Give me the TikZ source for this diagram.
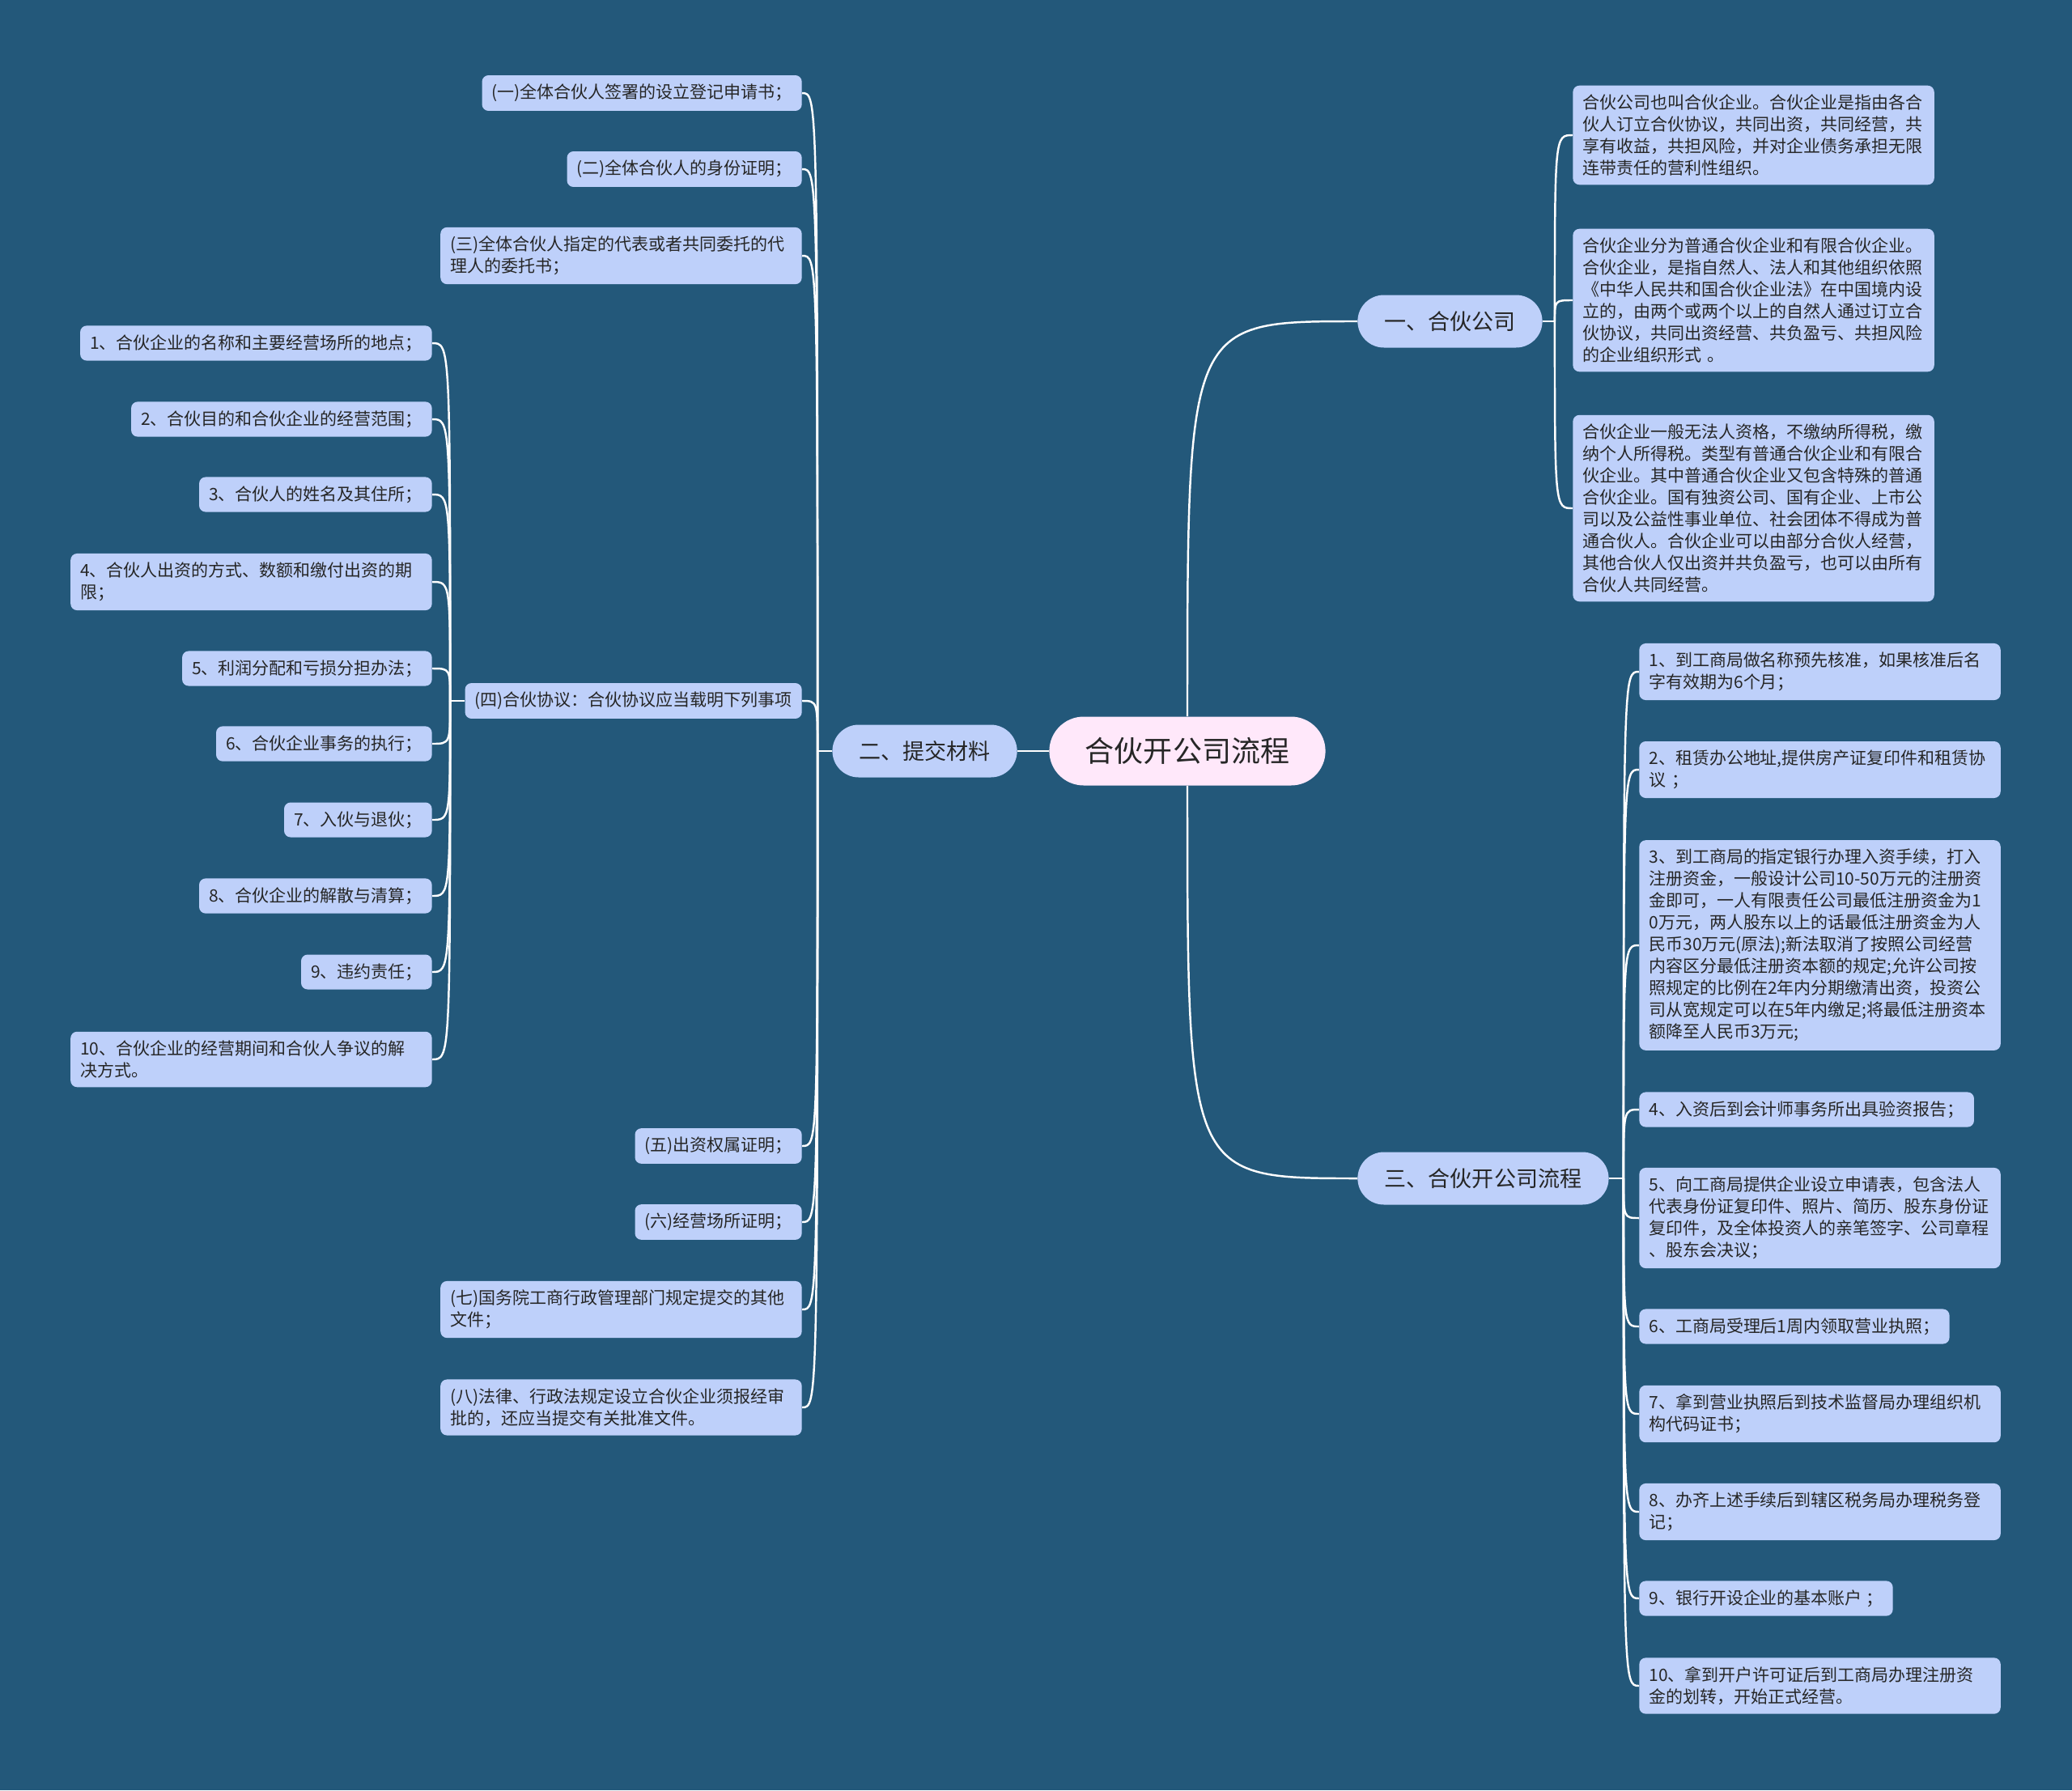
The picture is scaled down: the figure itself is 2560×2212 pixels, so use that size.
\documentclass[tikz,border=0pt]{standalone}
\usepackage{fontspec}
\setmainfont{Noto Sans CJK SC}
\usetikzlibrary{shapes.misc}
\definecolor{bgblue}{RGB}{35,88,122}
\definecolor{leafblue}{RGB}{190,208,250}
\definecolor{rootpink}{RGB}{255,232,250}
\definecolor{inkgray}{RGB}{38,38,38}

\begin{document}
\begin{tikzpicture}[x=0.02cm, y=-0.02cm,
    link/.style={draw=white, line width=1.4pt},
    leaf/.style={fill=leafblue, text=inkgray, rounded corners=0.16cm, inner xsep=0.24cm, inner ysep=0.22cm, align=left, font=\fontsize{11.95}{15.36}\selectfont},
    wideleaf/.style={leaf, text width=8.45cm},
    topic/.style={rounded rectangle, fill=leafblue, text=inkgray, minimum height=1.3cm, font=\fontsize{15.4}{18}\selectfont},
    central/.style={rounded rectangle, fill=rootpink, text=inkgray, minimum width=7.06cm, minimum height=1.7cm, font=\fontsize{20.5}{24}\selectfont}]
            \fill[bgblue] (0,0) rectangle (2560,2212);

            % Root and main topics
            \node[central] (root) at (1467,928) {合伙开公司流程};
            \node[topic, minimum width=4.8cm, anchor=west] (n1) at (1677,397) {一、合伙公司};
            \node[topic, minimum width=4.8cm, anchor=east] (n2) at (1257,928) {二、提交材料};
            \node[topic, minimum width=6.44cm, anchor=west] (n3) at (1677,1456) {三、合伙开公司流程};

            % 一、合伙公司
            \node[wideleaf, anchor=west] (p1) at (1943,167) {合伙公司也叫合伙企业。合伙企业是指由各合\\伙人订立合伙协议，共同出资，共同经营，共\\享有收益，共担风险，并对企业债务承担无限\\连带责任的营利性组织。};
            \node[wideleaf, anchor=west] (p2) at (1943,371) {合伙企业分为普通合伙企业和有限合伙企业。\\合伙企业，是指自然人、法人和其他组织依照\\《中华人民共和国合伙企业法》在中国境内设\\立的，由两个或两个以上的自然人通过订立合\\伙协议，共同出资经营、共负盈亏、共担风险\\的企业组织形式 。};
            \node[wideleaf, anchor=west] (p3) at (1943,628) {合伙企业一般无法人资格，不缴纳所得税，缴\\纳个人所得税。类型有普通合伙企业和有限合\\伙企业。其中普通合伙企业又包含特殊的普通\\合伙企业。国有独资公司、国有企业、上市公\\司以及公益性事业单位、社会团体不得成为普\\通合伙人。合伙企业可以由部分合伙人经营，\\其他合伙人仅出资并共负盈亏，也可以由所有\\合伙人共同经营。};

            % 二、提交材料
            \node[leaf, anchor=east] (l1) at (991,115) {(一)全体合伙人签署的设立登记申请书；};
            \node[leaf, anchor=east] (l2) at (991,209) {(二)全体合伙人的身份证明；};
            \node[wideleaf, anchor=east] (l3) at (991,316) {(三)全体合伙人指定的代表或者共同委托的代\\理人的委托书；};
            \node[leaf, anchor=east] (l4) at (991,866) {(四)合伙协议：合伙协议应当载明下列事项};
            \node[leaf, anchor=east] (l5) at (991,1416) {(五)出资权属证明；};
            \node[leaf, anchor=east] (l6) at (991,1510) {(六)经营场所证明；};
            \node[wideleaf, anchor=east] (l7) at (991,1618) {(七)国务院工商行政管理部门规定提交的其他\\文件；};
            \node[wideleaf, anchor=east] (l8) at (991,1739) {(八)法律、行政法规定设立合伙企业须报经审\\批的，还应当提交有关批准文件。};

            % (四)合伙协议
            \node[leaf, anchor=east] (a1) at (534,424) {1、合伙企业的名称和主要经营场所的地点；};
            \node[leaf, anchor=east] (a2) at (534,518) {2、合伙目的和合伙企业的经营范围；};
            \node[leaf, anchor=east] (a3) at (534,611) {3、合伙人的姓名及其住所；};
            \node[wideleaf, anchor=east] (a4) at (534,719) {4、合伙人出资的方式、数额和缴付出资的期\\限；};
            \node[leaf, anchor=east] (a5) at (534,826) {5、利润分配和亏损分担办法；};
            \node[leaf, anchor=east] (a6) at (534,919) {6、合伙企业事务的执行；};
            \node[leaf, anchor=east] (a7) at (534,1013) {7、入伙与退伙；};
            \node[leaf, anchor=east] (a8) at (534,1107) {8、合伙企业的解散与清算；};
            \node[leaf, anchor=east] (a9) at (534,1201) {9、违约责任；};
            \node[wideleaf, anchor=east] (a10) at (534,1309) {10、合伙企业的经营期间和合伙人争议的解\\决方式。};

            % 三、合伙开公司流程
            \node[wideleaf, anchor=west] (r1) at (2025,830) {1、到工商局做名称预先核准，如果核准后名\\字有效期为6个月；};
            \node[wideleaf, anchor=west] (r2) at (2025,951) {2、租赁办公地址,提供房产证复印件和租赁协\\议 ；};
            \node[wideleaf, anchor=west] (r3) at (2025,1168) {3、到工商局的指定银行办理入资手续，打入\\注册资金，一般设计公司10-50万元的注册资\\金即可，一人有限责任公司最低注册资金为1\\0万元，两人股东以上的话最低注册资金为人\\民币30万元(原法);新法取消了按照公司经营\\内容区分最低注册资本额的规定;允许公司按\\照规定的比例在2年内分期缴清出资，投资公\\司从宽规定可以在5年内缴足;将最低注册资本\\额降至人民币3万元;};
            \node[leaf, anchor=west] (r4) at (2025,1371) {4、入资后到会计师事务所出具验资报告；};
            \node[wideleaf, anchor=west] (r5) at (2025,1505) {5、向工商局提供企业设立申请表，包含法人\\代表身份证复印件、照片、简历、股东身份证\\复印件，及全体投资人的亲笔签字、公司章程\\、股东会决议；};
            \node[leaf, anchor=west] (r6) at (2025,1639) {6、工商局受理后1周内领取营业执照；};
            \node[wideleaf, anchor=west] (r7) at (2025,1747) {7、拿到营业执照后到技术监督局办理组织机\\构代码证书；};
            \node[wideleaf, anchor=west] (r8) at (2025,1868) {8、办齐上述手续后到辖区税务局办理税务登\\记；};
            \node[leaf, anchor=west] (r9) at (2025,1975) {9、银行开设企业的基本账户 ；};
            \node[wideleaf, anchor=west] (r10) at (2025,2083) {10、拿到开户许可证后到工商局办理注册资\\金的划转，开始正式经营。};

            % Branch points
            \path (n1.east) ++(15,0) coordinate (b1);
            \path (n2.west) ++(-18,0) coordinate (b2);
            \path (n3.east) ++(18,0) coordinate (b3);
            \path (l4.west) ++(-18,0) coordinate (b4);

            % Root links
            \draw[link] (root.west) -- (n2.east);
            \draw[link] (root.north) .. controls (root.north |- n1.west) .. (n1.west);
            \draw[link] (root.south) .. controls (root.south |- n3.west) .. (n3.west);

            % Links of 一
            \draw[link] (n1.east) -- (b1);
            \draw[link] (b1) .. controls (b1 |- p1) .. (p1.west);
            \draw[link] (b1) .. controls (b1 |- p2) .. (p2.west);
            \draw[link] (b1) .. controls (b1 |- p3) .. (p3.west);

            % Links of 二
            \draw[link] (n2.west) -- (b2);
            \draw[link] (b2) .. controls (b2 |- l1) .. (l1.east);
            \draw[link] (b2) .. controls (b2 |- l2) .. (l2.east);
            \draw[link] (b2) .. controls (b2 |- l3) .. (l3.east);
            \draw[link] (b2) .. controls (b2 |- l4) .. (l4.east);
            \draw[link] (b2) .. controls (b2 |- l5) .. (l5.east);
            \draw[link] (b2) .. controls (b2 |- l6) .. (l6.east);
            \draw[link] (b2) .. controls (b2 |- l7) .. (l7.east);
            \draw[link] (b2) .. controls (b2 |- l8) .. (l8.east);

            % Links of (四)
            \draw[link] (l4.west) -- (b4);
            \draw[link] (b4) .. controls (b4 |- a1) .. (a1.east);
            \draw[link] (b4) .. controls (b4 |- a2) .. (a2.east);
            \draw[link] (b4) .. controls (b4 |- a3) .. (a3.east);
            \draw[link] (b4) .. controls (b4 |- a4) .. (a4.east);
            \draw[link] (b4) .. controls (b4 |- a5) .. (a5.east);
            \draw[link] (b4) .. controls (b4 |- a6) .. (a6.east);
            \draw[link] (b4) .. controls (b4 |- a7) .. (a7.east);
            \draw[link] (b4) .. controls (b4 |- a8) .. (a8.east);
            \draw[link] (b4) .. controls (b4 |- a9) .. (a9.east);
            \draw[link] (b4) .. controls (b4 |- a10) .. (a10.east);

            % Links of 三
            \draw[link] (n3.east) -- (b3);
            \draw[link] (b3) .. controls (b3 |- r1) .. (r1.west);
            \draw[link] (b3) .. controls (b3 |- r2) .. (r2.west);
            \draw[link] (b3) .. controls (b3 |- r3) .. (r3.west);
            \draw[link] (b3) .. controls (b3 |- r4) .. (r4.west);
            \draw[link] (b3) .. controls (b3 |- r5) .. (r5.west);
            \draw[link] (b3) .. controls (b3 |- r6) .. (r6.west);
            \draw[link] (b3) .. controls (b3 |- r7) .. (r7.west);
            \draw[link] (b3) .. controls (b3 |- r8) .. (r8.west);
            \draw[link] (b3) .. controls (b3 |- r9) .. (r9.west);
            \draw[link] (b3) .. controls (b3 |- r10) .. (r10.west);
\end{tikzpicture}
\end{document}
